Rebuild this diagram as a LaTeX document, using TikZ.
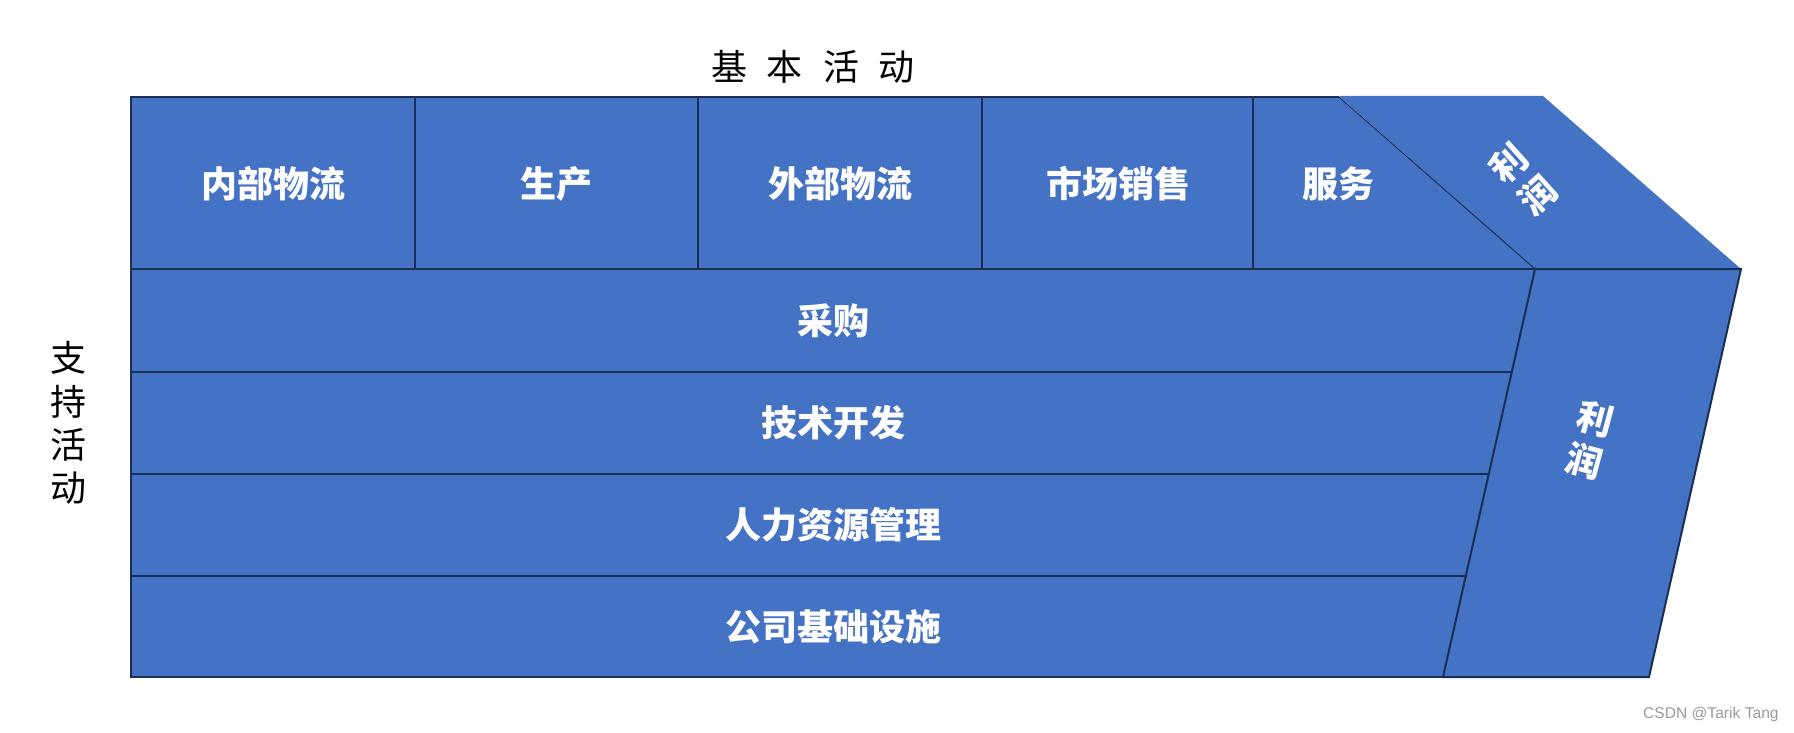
\documentclass[tikz,border=0pt]{standalone}
\usepackage{fontspec}
\newfontfamily\cjk{Noto Sans CJK SC}
\newfontfamily\wm{Liberation Sans}
\definecolor{boxblue}{HTML}{4472C4}
\definecolor{edgecol}{HTML}{1B2F55}
\definecolor{wmgray}{HTML}{9A9A9A}
\begin{document}
\begin{tikzpicture}[x=0.5pt,y=-0.5pt,
  cell/.style={fill=boxblue,draw=edgecol,line width=1pt},
  lab/.style={text=white,font=\cjk\bfseries\fontsize{18}{21.6}\selectfont,inner sep=0pt,align=center},
  head/.style={text=black,font=\cjk\fontsize{18}{21.6}\selectfont,inner sep=0pt,align=center}]
\useasboundingbox (0,0) rectangle (1794,733);

% primary activity cells
\draw[cell] (131,97) rectangle (415,269);
\draw[cell] (415,97) rectangle (698,269);
\draw[cell] (698,97) rectangle (982,269);
\draw[cell] (982,97) rectangle (1253,269);
\fill[boxblue] (1253,97) -- (1339,97) -- (1535,269) -- (1253,269) -- cycle;
\draw[edgecol,line width=1pt] (1253,269) -- (1253,97) -- (1339,97);

% profit pennant (top)
\fill[boxblue] (1339,96) -- (1543,96) -- (1741,269) -- (1535,269) -- cycle;
\draw[edgecol,line width=0.5pt] (1339,97) -- (1535,269);

% support activity rows
\draw[cell] (131,269) rectangle (1535,372);
\draw[cell] (131,372) rectangle (1535,474);
\draw[cell] (131,474) rectangle (1535,576);
\draw[cell] (131,576) rectangle (1535,677);

% profit parallelogram
\draw[cell] (1535,269) -- (1741,269) -- (1649,677) -- (1443,677) -- cycle;

% labels
\node[lab] (nb) at (273,184) {内部物流};
\node[lab] (sc) at (556,184) {生产};
\node[lab] (wb) at (840,184) {外部物流};
\node[lab] (yx) at (1118,184) {市场销售};
\node[lab] (fw) at (1338,184) {服务};
\node[lab,rotate=42] (lr1) at (1523,179) {利\\润};

\node[lab] (cg) at (833,321) {采购};
\node[lab] (js) at (833,423) {技术开发};
\node[lab] (rl) at (833,525) {人力资源管理};
\node[lab] (gs) at (833,627) {公司基础设施};
\node[lab,rotate=-15] (lr2) at (1590,440) {利\\润};

\node[head] (jb) at (813,67) {基\hspace{10pt}本\hspace{10pt}活\hspace{10pt}动};
\node[head] (zc) at (68,423) {支\\持\\活\\动};

\node[text=wmgray,font=\wm\fontsize{7.8}{9}\selectfont,inner sep=0pt,anchor=east] (wmk) at (1779,714) {CSDN @Tarik Tang};
\end{tikzpicture}
\end{document}
